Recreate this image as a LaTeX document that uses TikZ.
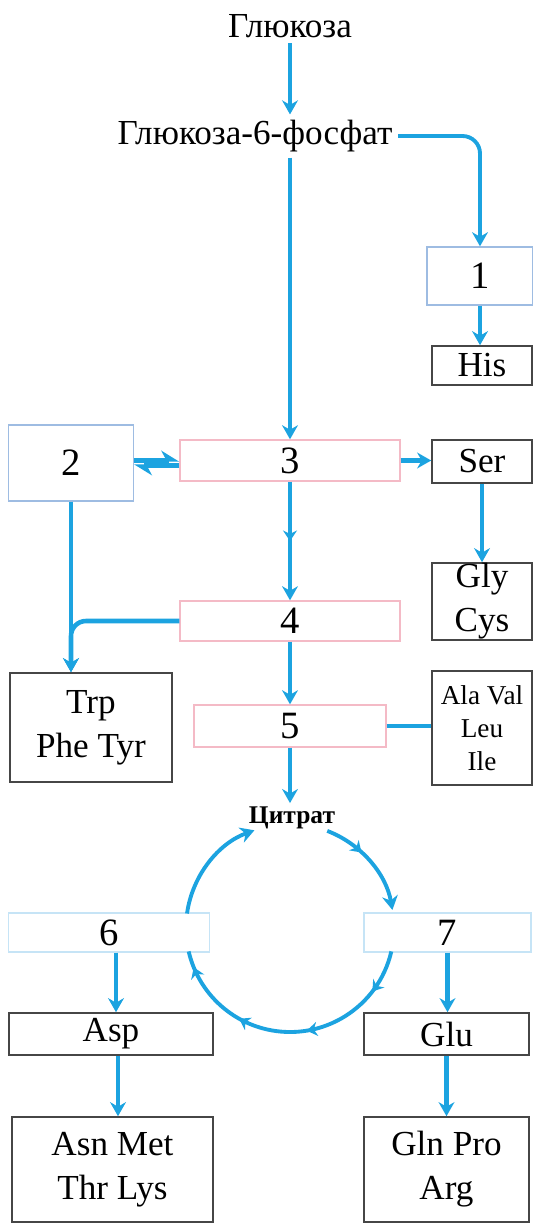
\documentclass[tikz,border=0pt]{standalone}
\usepackage{fontspec}
\setmainfont{Liberation Serif}
\usetikzlibrary{arrows.meta,positioning,calc,decorations.markings}
\definecolor{flowblue}{RGB}{28,163,224}
\definecolor{steelline}{RGB}{158,188,226}
\definecolor{pinkline}{RGB}{244,186,198}
\definecolor{paleline}{RGB}{198,228,246}
\definecolor{boxgray}{RGB}{70,70,70}

\begin{document}
\begin{tikzpicture}[
    >={Stealth[length=8pt,width=9pt]},
    b/.style={
        inner sep=0pt,
        align=center,
        fill=white,
        font=\fontsize{20}{25}\selectfont
    },
    num/.style={
        b,
        line width=0.8pt,
        font=\fontsize{22}{26}\selectfont
    },
    aa/.style={
        b,
        draw=boxgray,
        line width=0.9pt
    },
    flow/.style={->,line width=2.6pt,flowblue},
    midarrow/.style={
        postaction={decorate},
        decoration={markings,
            mark=at position 0.5 with {\arrow{Stealth[length=6pt,width=8pt]}}}
    },
    cyc/.style={line width=2.2pt,flowblue,postaction={decorate}}
]
\useasboundingbox (0,0) rectangle (10.66,-24.46);

% sugars at the top
\node[b, inner sep=3pt] (glc) at (5.8,-0.52) {Глюкоза};
\node[b, inner sep=3pt] (g6p) at (5.1,-2.72) {Глюкоза-6-фосфат};

% numbered steps
\node[
    num,
    draw=steelline,
    minimum width=2.12cm,
    minimum height=1.16cm
] (box1) at (9.6,-5.52) {1};

\node[
    num,
    draw=steelline,
    minimum width=2.49cm,
    minimum height=1.52cm
] (box2) at (1.42,-9.26) {2};

\node[
    num,
    draw=pinkline,
    minimum width=4.4cm,
    minimum height=0.82cm
] (box3) at (5.8,-9.21) {3};

\node[
    num,
    draw=pinkline,
    minimum width=4.4cm,
    minimum height=0.8cm
] (box4) at (5.8,-12.42) {4};

\node[
    num,
    draw=pinkline,
    minimum width=3.84cm,
    minimum height=0.84cm
] (box5) at (5.8,-14.52) {5};

\node[
    num,
    draw=paleline,
    minimum width=4.01cm,
    minimum height=0.78cm
] (box6) at (2.18,-18.65) {6};

\node[
    num,
    draw=paleline,
    minimum width=3.34cm,
    minimum height=0.78cm
] (box7) at (8.95,-18.65) {7};

% amino acids
\node[aa, minimum width=2cm, minimum height=0.78cm] (his) at (9.64,-7.31) {His};
\node[aa, minimum width=2cm, minimum height=0.86cm] (ser) at (9.64,-9.23) {Ser};
\node[aa, minimum width=2cm, minimum height=1.54cm] (gly) at (9.64,-12.03) {Gly\\Cys};
\node[aa, minimum width=3.25cm, minimum height=2.18cm] (trp) at (1.82,-14.55) {Trp\\Phe Tyr};
\node[
    aa,
    minimum width=2cm,
    minimum height=2.28cm,
    font=\fontsize{15.5}{18.7}\selectfont
] (ala) at (9.64,-14.56) {Ala Val\\Leu\\Ile};
\node[aa, minimum width=4.09cm, minimum height=0.84cm] (asp) at (2.22,-20.68) {Asp};
\node[aa, minimum width=4.02cm, minimum height=2.1cm] (asn) at (2.25,-23.39) {Asn Met\\Thr Lys};
\node[aa, minimum width=3.3cm, minimum height=0.84cm] (glu) at (8.93,-20.68) {Glu};
\node[aa, minimum width=3.3cm, minimum height=2.1cm] (gln) at (8.93,-23.39) {Gln Pro\\Arg};

\node[
    inner sep=2pt,
    font=\bfseries\fontsize{14.5}{17}\selectfont
] (cit) at (5.84,-16.36) {Цитрат};
\coordinate (cyc) at (5.8,-18.56);

% arrows
\draw[flow] (glc.south) -- (glc.south |- g6p.north);
\draw[flow] (g6p.south -| box3.north) -- (box3.north);
\draw[flow, line width=2.2pt, rounded corners=0.35cm] (g6p.east) -| (box1.north);
\draw[flow] (box1.south) -- (box1.south |- his.north);

\draw[flow, -{Stealth[harpoon,length=9pt,width=11pt]}]
    ([yshift=1.5pt]box2.east) -- ([yshift=1.5pt]box2.east -| box3.west);
\draw[flow, -{Stealth[harpoon,length=9pt,width=11pt]}]
    ([yshift=-1.5pt]box2.east -| box3.west) -- ([yshift=-1.5pt]box2.east);

\draw[flow] (box3.east) -- (box3.east -| ser.west);
\draw[flow] (ser.south) -- (ser.south |- gly.north);
\draw[flow, midarrow] (box3.south) -- (box4.north);

\coordinate (trpin) at (box2.south |- trp.north);
\draw[flow] (box2.south) -- (trpin);
\draw[flow, rounded corners=0.3cm] (box4.west) -| (trpin);

\draw[flow] (box4.south) -- (box5.north);
\draw[line width=2.6pt, flowblue] (box5.east) -- (box5.east -| ala.west);
\draw[flow] (box5.south) -- (box5.south |- cit.north);

% citrate cycle
\draw[cyc, ->] (cyc) ++(172:2.08) arc[start angle=172, end angle=110, radius=2.08];
\draw[cyc, ->, decoration={markings,
        mark=at position 0.38 with {\arrow{Stealth[length=6pt,width=8pt]}}}]
    (cyc) ++(69:2.08) arc[start angle=69, end angle=10, radius=2.08];
\draw[cyc, decoration={markings,
        mark=at position 0.16 with {\arrow{Stealth[length=6pt,width=8pt]}},
        mark=at position 0.44 with {\arrow{Stealth[length=6pt,width=8pt]}},
        mark=at position 0.69 with {\arrow{Stealth[length=6pt,width=8pt]}},
        mark=at position 0.94 with {\arrow{Stealth[length=6pt,width=8pt]}}}]
    (cyc) ++(-13:2.08) arc[start angle=-13, end angle=-167, radius=2.08];

\draw[flow] ([xshift=0.14cm]box6.south) -- ([xshift=0.14cm]box6.south |- asp.north);
\draw[flow] ([xshift=0.14cm]asp.south) -- ([xshift=0.14cm]asp.south |- asn.north);
\draw[flow] (box7.south) -- (box7.south |- glu.north);
\draw[flow] (glu.south) -- (glu.south |- gln.north);

\end{tikzpicture}
\end{document}
